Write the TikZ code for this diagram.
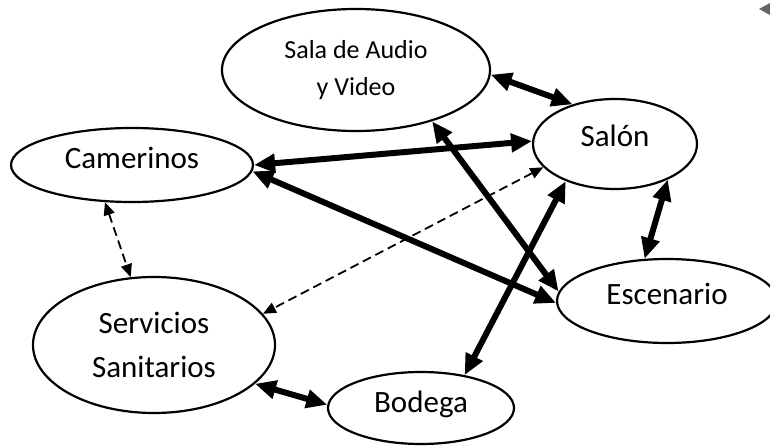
\documentclass[tikz,border=0pt]{standalone}
\usepackage{fontspec}
\setmainfont{Carlito}
\usetikzlibrary{shapes.geometric,arrows.meta}
\begin{document}
\begin{tikzpicture}[x=1pt,y=-1pt,
  room/.style={draw, ellipse, line width=2.2pt, inner sep=0pt, font=\fontsize{31pt}{44pt}\selectfont, align=center},
  oneline/.style={text height=0.65em, text depth=0.05em},
  strong/.style={line width=6pt, {Triangle[length=21pt,width=18pt]}-{Triangle[length=21pt,width=18pt]}},
  weak/.style={line width=1.8pt, dash pattern=on 9pt off 5pt, {Triangle[length=13pt,width=11pt]}-{Triangle[length=13pt,width=11pt]}}]
\useasboundingbox (0,0) rectangle (770,446);
\clip (0,0) rectangle (770,446);
\fill[white] (0,0) rectangle (770,446);
% nodes
\node[room, minimum width=268pt, minimum height=122pt, font=\fontsize{26pt}{37pt}\selectfont] (sala) at (356,70) {Sala de Audio\\y Video};
\node[room, oneline, minimum width=164pt, minimum height=90pt] (salon) at (615,144) {Salón};
\node[room, oneline, text height=0.84em, minimum width=242pt, minimum height=74pt] (cam) at (132,165) {Camerinos};
\node[room, minimum width=242pt, minimum height=136pt] (serv) at (154,345) {Servicios\\Sanitarios};
\node[room, oneline, text height=0.9em, minimum width=186pt, minimum height=72pt] (bod) at (421,408) {Bodega};
\node[room, oneline, minimum width=220pt, minimum height=84pt] (esc) at (667,301) {Escenario};
% connectors
\draw[strong] (sala.-2) -- (salon.137);
\draw[strong] (salon.178.6) -- (cam.0);
\draw[strong] (sala.-34) -- (esc.175.4);
\draw[strong] (cam.-3.5) -- (esc.181.5);
\draw[strong] (salon.217) -- (bod.37);
\draw[strong] (salon.-34) -- (esc.118);
\draw[strong] (serv.-21) -- (bod.178);
\draw[weak] (salon.198.7) -- (serv.16.5);
\draw[weak] (cam.234.5) -- (serv.109.4);
% small marker at top right
\fill[black!60] (759,9) -- (770,3) -- (770,15) -- cycle;
\end{tikzpicture}
\end{document}
